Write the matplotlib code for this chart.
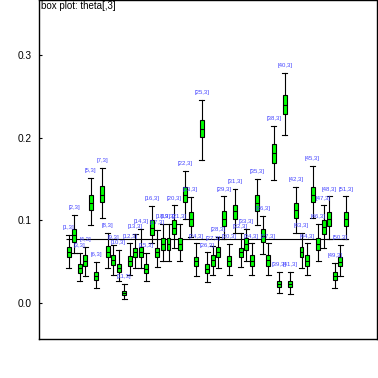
import matplotlib
matplotlib.use("Agg")
import matplotlib.pyplot as plt

plt.rcParams["font.family"] = ["Liberation Sans", "DejaVu Sans"]

# summary stats per node theta[i,3]
whislo = [0.042, 0.060, 0.027, 0.033, 0.094, 0.018, 0.103, 0.042, 0.034, 0.027,
          0.004, 0.034, 0.042, 0.042, 0.027, 0.072, 0.043, 0.051, 0.051, 0.067,
          0.051, 0.102, 0.080, 0.033, 0.173, 0.025, 0.034, 0.042, 0.077, 0.034,
          0.085, 0.043, 0.051, 0.034, 0.094, 0.059, 0.034, 0.149, 0.012, 0.203,
          0.011, 0.085, 0.042, 0.034, 0.103, 0.051, 0.067, 0.077, 0.018, 0.033,
          0.077]
q1 = [0.055, 0.074, 0.036, 0.045, 0.112, 0.028, 0.122, 0.056, 0.046, 0.037,
      0.009, 0.045, 0.055, 0.055, 0.036, 0.082, 0.055, 0.064, 0.064, 0.083,
      0.064, 0.122, 0.093, 0.045, 0.201, 0.036, 0.045, 0.055, 0.093, 0.045,
      0.102, 0.055, 0.064, 0.045, 0.111, 0.074, 0.045, 0.170, 0.019, 0.229,
      0.019, 0.103, 0.055, 0.045, 0.122, 0.064, 0.083, 0.093, 0.028, 0.044,
      0.093]
med = [0.061, 0.082, 0.042, 0.051, 0.121, 0.033, 0.131, 0.062, 0.052, 0.042,
       0.012, 0.051, 0.061, 0.062, 0.041, 0.091, 0.061, 0.071, 0.071, 0.091,
       0.071, 0.131, 0.101, 0.051, 0.211, 0.041, 0.052, 0.061, 0.102, 0.051,
       0.111, 0.061, 0.071, 0.051, 0.121, 0.081, 0.052, 0.181, 0.023, 0.240,
       0.023, 0.112, 0.061, 0.051, 0.131, 0.071, 0.092, 0.102, 0.033, 0.050,
       0.101]
q3 = [0.068, 0.089, 0.047, 0.058, 0.131, 0.037, 0.141, 0.069, 0.058, 0.047,
      0.0145, 0.057, 0.067, 0.068, 0.047, 0.100, 0.067, 0.078, 0.078, 0.100,
      0.078, 0.140, 0.110, 0.056, 0.222, 0.047, 0.058, 0.068, 0.111, 0.057,
      0.119, 0.067, 0.078, 0.058, 0.131, 0.089, 0.058, 0.192, 0.027, 0.252,
      0.027, 0.121, 0.068, 0.058, 0.140, 0.078, 0.100, 0.110, 0.037, 0.056,
      0.110]
whishi = [0.082, 0.106, 0.060, 0.068, 0.151, 0.049, 0.163, 0.085, 0.070, 0.064,
          0.023, 0.072, 0.083, 0.089, 0.060, 0.117, 0.088, 0.096, 0.096, 0.118,
          0.096, 0.160, 0.128, 0.072, 0.246, 0.061, 0.069, 0.080, 0.129, 0.071,
          0.138, 0.084, 0.090, 0.072, 0.150, 0.105, 0.072, 0.214, 0.037, 0.279,
          0.037, 0.140, 0.085, 0.072, 0.166, 0.096, 0.118, 0.129, 0.048, 0.070,
          0.129]
labels = ["[%d,3]" % (i + 1) for i in range(len(med))]
baseline = 0.077

stats = []
for i in range(len(med)):
    stats.append({"whislo": whislo[i], "q1": q1[i], "med": med[i],
                  "q3": q3[i], "whishi": whishi[i], "fliers": []})

fig = plt.figure(figsize=(3.78, 3.78), dpi=100)
ax = fig.add_axes([0.102, 0.103, 0.895, 0.896])

pos = list(range(1, len(med) + 1))
ax.bxp(stats, positions=pos, widths=0.72, capwidths=0.9, patch_artist=True,
       showfliers=False,
       boxprops=dict(facecolor="#00ff00", edgecolor="black", linewidth=0.8),
       medianprops=dict(color="black", linewidth=0.8),
       whiskerprops=dict(color="black", linewidth=0.8),
       capprops=dict(color="black", linewidth=0.8))

# overall mean line
ax.hlines(baseline, 0.5, 51.4, color="black", linewidth=0.8, zorder=1)

for p, hi, lab in zip(pos, whishi, labels):
    ax.annotate(lab, (p, hi), xytext=(0, 5.3), textcoords="offset points",
                ha="center", va="center", fontsize=4.3, color="#4646ff")

ax.text(0.006, 0.997, "box plot: theta[,3]", transform=ax.transAxes,
        ha="left", va="top", fontsize=7)

ax.set_xlim(-4.45, 56.6)
ax.set_ylim(-0.044, 0.3666)
ax.set_yticks([0.0, 0.1, 0.2, 0.3])
ax.set_yticklabels(["0.0", "0.1", "0.2", "0.3"])
ax.set_xticks([])
ax.tick_params(axis="y", direction="in", length=2, pad=4.7, labelsize=7.3)
for s in ax.spines.values():
    s.set_linewidth(1.0)

fig.savefig("out.png", dpi=100)
